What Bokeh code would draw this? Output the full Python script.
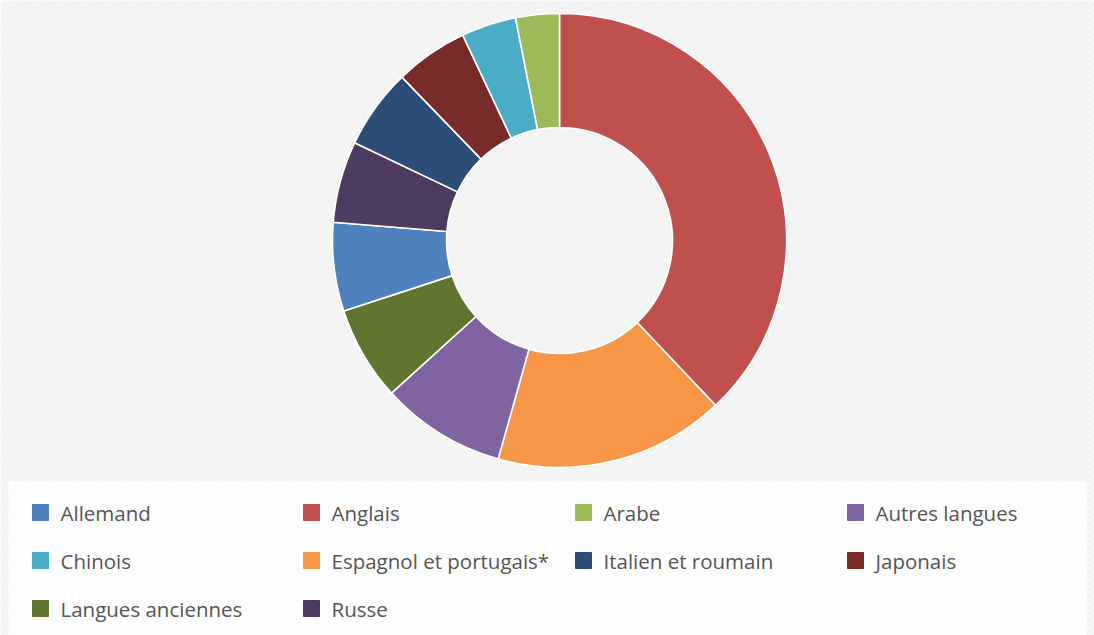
import numpy as np
from bokeh.plotting import figure
from bokeh.models import Range1d, ColumnDataSource
from bokeh.core.properties import value
from bokeh.embed import file_html
from bokeh.resources import INLINE

# Data (clockwise from 12 o'clock)
slice_names = ["Anglais", "Espagnol et portugais*", "Autres langues", "Langues anciennes",
               "Allemand", "Russe", "Italien et roumain", "Japonais", "Chinois", "Arabe"]
slice_values = [37.9, 16.4, 8.9, 6.7, 6.3, 5.8, 5.7, 5.2, 3.9, 3.1]
slice_colors = ["#c0504d", "#f79646", "#8064a2", "#5f7530", "#4f81bd",
                "#4d3b62", "#2c4d75", "#772c2a", "#4bacc6", "#9bbb59"]

# Legend order
legend_names = ["Allemand", "Anglais", "Arabe", "Autres langues",
                "Chinois", "Espagnol et portugais*", "Italien et roumain", "Japonais",
                "Langues anciennes", "Russe"]

W, H = 1094, 635
p = figure(width=W, height=H, output_backend="svg", toolbar_location=None,
           x_range=Range1d(0, W), y_range=Range1d(0, H), min_border=0)
p.axis.visible = False
p.grid.visible = False
p.outline_line_color = None
p.background_fill_color = "white"
p.border_fill_color = "white"

# hatched background
p.quad(left=[0], right=[W], bottom=[0], top=[H], fill_color="white", line_color=None,
       hatch_pattern="\\", hatch_color="#f0f0f0", hatch_scale=6, hatch_weight=2)

# legend box
p.quad(left=[8], right=[1086], bottom=[0], top=[H - 481], fill_color="white",
       fill_alpha=0.8, line_color=None)

# donut
vals = np.array(slice_values, dtype=float)
frac = vals / vals.sum()
cum = np.concatenate([[0], np.cumsum(frac)])
theta_start = cum[:-1] * 2 * np.pi
theta_end = cum[1:] * 2 * np.pi
src = ColumnDataSource(dict(
    start=np.pi / 2 - theta_start,
    end=np.pi / 2 - theta_end,
    color=slice_colors,
    name=slice_names,
))
cx, cy = 559, H - 240
p.annular_wedge(x=cx, y=cy, inner_radius=113, outer_radius=227,
                start_angle="start", end_angle="end", direction="clock",
                fill_color="color", line_color="white", line_width=1.6, source=src)

# legend
col_x = [40, 311, 583, 855]
row_y = [512, 560, 608]
color_map = dict(zip(slice_names, slice_colors))
lx, ly, lc = [], [], []
for i, n in enumerate(legend_names):
    lx.append(col_x[i % 4])
    ly.append(H - row_y[i // 4])
    lc.append(color_map[n])
lsrc = ColumnDataSource(dict(x=lx, y=ly, tx=[x + 20 for x in lx], c=lc, t=legend_names))
p.scatter(x="x", y="y", marker="square", size=16, fill_color="c", line_color="c", source=lsrc)
p.text(x="tx", y="y", text="t", source=lsrc, text_font=value("Open Sans"),
       text_font_size="20.5px", text_color="#555555", text_baseline="middle",
       text_align="left")

open("out.html", "w").write(file_html(p, INLINE))
